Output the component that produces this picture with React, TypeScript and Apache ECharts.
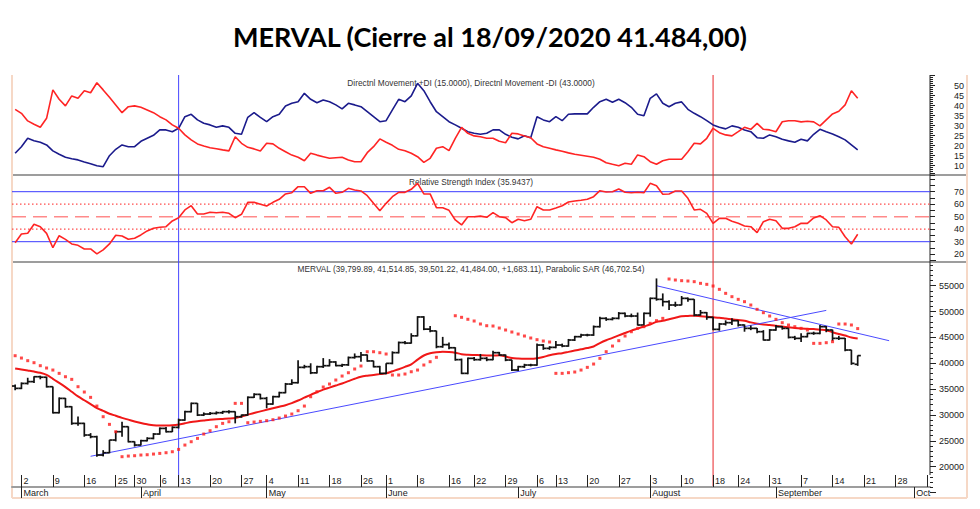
import React, { useEffect, useRef } from 'react';
import * as echarts from 'echarts';

// ---------- calendar (trading days) ----------
const START_DATE = '2020-02-28';
const END_DATE = '2020-10-05';
const HOLIDAYS = ['2020-03-23', '2020-03-24', '2020-03-31', '2020-04-09', '2020-04-10', '2020-05-01', '2020-05-25', '2020-06-15', '2020-07-09', '2020-07-10', '2020-08-17'];
const MONTH_LABELS: Record<number, string> = { 2: 'March', 3: 'April', 4: 'May', 5: 'June', 6: 'July', 7: 'August', 8: 'September', 9: 'Oct' };

function buildDays(): string[] {
  const out: string[] = [];
  const s = new Date(START_DATE + 'T00:00:00Z');
  const e = new Date(END_DATE + 'T00:00:00Z');
  for (let d = new Date(s); d <= e; d = new Date(d.getTime() + 86400000)) {
    const iso = d.toISOString().slice(0, 10);
    const dow = d.getUTCDay();
    if (dow === 0 || dow === 6) continue;
    if (HOLIDAYS.includes(iso)) continue;
    out.push(iso);
  }
  return out;
}
const CATEGORIES = buildDays();

// ---------- price: [open, high, low, close] ----------
const MERVAL_OHLC: number[][] = [
  [35600, 35900, 34800, 35150], [35150, 36300, 35000, 36100], [36100, 37200, 35900, 36450], [36450, 37500, 36200, 37400],
  [37400, 37600, 36900, 37300], [37300, 37400, 35300, 35470], [35470, 35500, 30300, 30440], [30440, 33400, 30300, 33210],
  [33210, 33300, 31400, 31600], [31600, 31700, 28100, 28380], [28380, 29700, 27900, 28380], [28380, 28500, 25800, 26130],
  [26130, 26500, 25500, 25800], [25800, 26000, 21940, 22260], [22260, 23200, 22000, 22710], [22710, 25200, 22600, 25160],
  [25160, 26900, 24900, 26770], [26770, 28700, 25800, 27740], [27740, 27800, 24700, 24835], [24835, 24900, 23900, 24190],
  [24190, 25200, 24100, 25030], [25030, 25700, 24900, 25480], [25480, 26500, 25300, 26320], [26320, 27600, 26200, 27410],
  [27410, 27700, 26600, 26770], [26770, 27800, 26700, 27610], [27610, 29300, 27400, 29025], [29025, 30800, 28900, 30640],
  [30640, 32400, 30500, 32250], [32250, 32300, 29800, 29990], [29990, 30500, 29800, 30185], [30185, 30600, 30000, 30310],
  [30310, 30700, 30100, 30440], [30440, 30800, 30200, 30640], [30640, 30900, 30300, 30640], [30640, 30700, 28380, 29670],
  [29670, 30100, 29500, 29990], [29990, 33600, 29900, 33410], [33410, 34200, 33300, 33990], [33990, 34100, 33000, 33210],
  [33210, 33500, 31300, 32120], [32120, 33700, 32000, 33540], [33540, 34500, 33400, 34310], [34310, 36200, 34200, 35985],
  [35985, 36900, 35800, 36240], [36240, 40600, 36100, 39210], [39210, 39700, 39000, 39340], [39340, 40000, 37900, 38150],
  [38150, 39500, 38000, 39337], [39337, 41000, 39100, 39530], [39530, 40800, 39400, 40250], [40250, 40400, 39400, 39550],
  [39550, 39900, 39300, 39700], [39700, 41300, 39500, 41100], [41100, 41900, 40900, 41270], [41270, 42200, 40300, 41600],
  [41600, 41700, 40300, 40450], [40450, 40500, 39200, 39337], [39337, 39500, 37900, 38047], [38047, 40000, 37900, 39981],
  [39981, 42300, 39800, 42050], [42050, 44200, 41900, 44000], [44000, 44300, 43700, 43900], [43900, 45800, 43800, 45300],
  [45300, 49100, 45200, 48950], [48950, 49100, 46400, 46600], [46600, 47200, 46000, 46250], [46250, 46300, 42900, 43200],
  [43200, 45100, 43000, 43600], [43600, 44000, 42700, 43000], [43000, 43100, 40500, 40700], [40700, 40900, 37900, 38050],
  [38050, 41100, 37900, 40950], [40950, 41200, 40500, 40700], [40700, 41800, 40500, 40950], [40950, 41200, 40400, 40700],
  [40700, 42400, 40600, 42044], [42044, 42200, 41400, 41592], [41592, 41700, 40400, 40626], [40626, 40700, 38500, 38692],
  [38692, 39500, 38500, 39337], [39337, 39900, 39100, 39659], [39659, 39900, 39400, 39659], [39659, 43800, 39500, 43526],
  [43526, 43700, 42600, 42882], [42882, 43300, 42600, 43075], [43075, 44300, 42900, 43526], [43526, 43800, 43100, 43333],
  [43333, 44700, 43200, 44493], [44493, 45300, 44300, 45138], [45138, 45700, 45000, 45460], [45460, 45700, 45200, 45460],
  [45460, 47300, 45300, 47071], [47071, 49000, 46900, 48682], [48682, 48900, 48200, 48489], [48489, 48900, 48300, 48682],
  [48682, 49900, 48500, 49649], [49649, 49800, 48900, 49133], [49133, 49600, 48900, 49133], [49133, 49800, 47300, 47393],
  [47393, 49800, 47200, 49649], [49649, 52700, 49000, 52550], [52550, 56400, 52100, 52356], [52356, 53500, 51000, 51900],
  [51900, 52200, 50300, 51260], [51260, 51900, 50900, 51260], [51260, 53000, 51200, 52550], [52550, 52700, 51900, 52356],
  [52356, 52400, 49100, 49330], [49330, 50300, 49200, 49780], [49780, 49900, 48400, 48876], [48876, 49000, 46400, 46555],
  [46555, 47800, 46300, 47590], [47590, 48300, 47300, 47845], [47845, 48700, 47400, 48230], [48230, 48300, 47100, 47400],
  [47400, 47500, 46100, 46750], [46750, 47300, 46400, 46750], [46750, 46800, 45800, 46105], [46105, 46400, 44400, 44490],
  [44490, 46600, 44400, 46430], [46430, 47400, 46300, 47070], [47070, 47200, 46500, 46750], [46750, 46800, 44800, 45010],
  [45010, 45300, 44500, 44815], [44815, 45800, 44100, 45140], [45140, 45900, 45000, 45780], [45780, 46100, 45500, 45780],
  [45780, 47400, 45600, 47070], [47070, 47200, 46000, 46430], [46430, 46500, 44300, 44815], [44815, 45300, 44500, 44815],
  [44815, 44900, 42300, 42560], [42560, 42600, 39700, 39980], [39799.89, 41514.85, 39501.22, 41484.0],
];

// moving average (red curve)
const MERVAL_MA = [
  39000, 38800, 38600, 38400, 38150, 37750, 37000, 36200, 35400, 34500,
  33600, 32850, 32100, 31350, 30800, 30250, 29850, 29450, 29100, 28750,
  28450, 28200, 28000, 27950, 27950, 28000, 28150, 28400, 28650, 28800,
  28950, 29100, 29200, 29250, 29300, 29400, 29700, 30050, 30400, 30700,
  31000, 31300, 31600, 31900, 32300, 32800, 33350, 33900, 34400, 34900,
  35300, 35700, 36100, 36550, 37000, 37400, 37600, 37750, 37900, 38050,
  38450, 38850, 39300, 39800, 40700, 41500, 41950, 42150, 42250, 42200,
  42050, 41750, 41650, 41600, 41550, 41500, 41500, 41550, 41300, 41000,
  40900, 40850, 40850, 40950, 41200, 41550, 41800, 41950, 42200, 42450,
  42700, 42950, 43250, 43900, 44450, 44900, 45400, 45850, 46300, 46700,
  47100, 47500, 48000, 48200, 48500, 48800, 49100, 49150, 49200, 49100,
  49000, 48900, 48800, 48650, 48500, 48350, 48200, 47900, 47650, 47500,
  47400, 47250, 47100, 46950, 46800, 46700, 46650, 46600, 46500, 46400,
  46000, 45650, 45350, 45000, 44800,
];

// Parabolic SAR
const PARABOLIC_SAR: (number | null)[] = [
  41460, 41010, 40500, 40110, 39530, 39080, 38690, 38050, 37400, 36890,
  35470, 34440, 33410, 31730, 29670, 28190, 26770, 21940, 22065, 22130,
  22260, 22320, 22450, 22580, 22710, 22900, 23350, 24190, 24835, 25480,
  26320, 26960, 27740, 28380, 28700, 32250, 32250, 28510, 28640, 28770,
  28900, 29090, 29410, 29800, 30190, 30830, 31730, 33530, 34500, 35410,
  35990, 36760, 37530, 38170, 38890, 39470, 42230, 42230, 42040, 41790,
  37730, 37730, 37920, 38360, 38690, 39660, 40300, 41150, null, null,
  49190, 48880, 48500, 48170, 47590, 47260, 47200, 46810, 46430, 46040,
  45650, 45270, 44880, 44560, 44300, 44110, 38050, 38050, 38180, 38310,
  38690, 39210, 39850, 40950, 42240, 43330, 44365, 45270, 46100, 46750,
  47071, 47716, 48230, 48680, 56287, 56094, 55965, 55900, 55772, 55450,
  55256, 54934, 54290, 53516, 52872, 52356, 51905, 51260, 50422, 49778,
  49133, 48489, 47844, 47393, 47071, 46749, 46426, 43848, 43848, 43977,
  44170, 47587, 47587, 47400, 46702.54,
];

// Directional movement
const DI_PLUS = [
  16.2, 19.5, 23.7, 22.5, 21.7, 20.4, 17.4, 15.7, 14.2, 13.5,
  12.9, 11.9, 11.0, 10.0, 9.5, 15.0, 18.2, 20.4, 19.5, 19.5,
  22.2, 23.7, 25.2, 27.9, 27.9, 27.0, 28.7, 34.5, 35.7, 32.9,
  31.2, 30.4, 29.2, 29.9, 29.2, 26.2, 25.7, 34.2, 36.5, 34.2,
  32.0, 34.5, 35.7, 39.9, 41.2, 42.0, 46.2, 43.2, 41.5, 42.9,
  42.0, 40.4, 38.4, 41.2, 40.4, 39.5, 37.0, 34.5, 32.0, 32.5,
  37.9, 43.2, 42.0, 44.9, 51.2, 47.5, 42.0, 37.0, 34.5, 32.0,
  30.4, 28.7, 27.0, 26.2, 25.7, 26.2, 27.9, 27.9, 25.7, 24.2,
  23.4, 25.0, 24.0, 34.5, 32.9, 32.0, 34.5, 32.5, 35.7, 35.9,
  35.9, 35.9, 39.2, 42.0, 43.2, 41.7, 43.2, 41.5, 39.2, 35.7,
  35.0, 43.7, 45.9, 41.2, 39.5, 41.2, 41.9, 38.2, 36.2, 34.5,
  32.5, 30.4, 29.2, 28.4, 29.9, 29.2, 27.9, 27.0, 24.0, 23.7,
  25.4, 24.5, 23.2, 22.4, 21.7, 23.2, 22.4, 25.7, 28.2, 27.0,
  25.9, 24.5, 22.9, 20.4, 17.9,
];
const DI_MINUS = [
  38.2, 36.2, 32.4, 30.7, 29.2, 33.7, 47.9, 43.2, 39.9, 44.9,
  43.7, 47.5, 46.5, 51.5, 47.9, 44.2, 40.4, 36.5, 39.5, 39.9,
  39.2, 37.9, 36.5, 34.5, 32.9, 30.4, 28.7, 25.4, 22.9, 20.9,
  19.9, 19.0, 18.5, 17.9, 17.4, 24.5, 21.2, 19.2, 18.4, 17.4,
  21.2, 20.9, 18.7, 17.0, 15.3, 14.2, 12.5, 16.2, 15.3, 14.5,
  13.7, 14.0, 14.2, 12.9, 12.0, 12.0, 16.5, 19.5, 23.4, 21.7,
  20.2, 18.2, 17.5, 16.2, 14.5, 11.7, 13.7, 18.7, 19.5, 17.5,
  23.7, 29.2, 26.2, 24.9, 24.5, 23.7, 23.7, 22.2, 21.5, 26.2,
  25.9, 24.9, 24.0, 20.9, 19.5, 18.7, 17.9, 17.2, 16.4, 15.7,
  15.2, 14.7, 14.2, 13.2, 11.5, 10.7, 10.0, 11.2, 10.7, 15.4,
  14.5, 12.0, 10.7, 12.5, 13.2, 13.2, 13.2, 17.0, 21.2, 20.9,
  23.7, 28.7, 26.5, 25.4, 24.9, 27.0, 29.2, 28.2, 31.2, 28.2,
  27.9, 27.0, 32.0, 32.5, 32.5, 31.9, 32.2, 31.9, 29.9, 32.9,
  35.9, 37.2, 40.4, 47.5, 43.7,
];

// Relative Strength Index
const RSI = [
  29.2, 36.2, 36.7, 43.9, 42.0, 36.7, 25.2, 34.8, 31.9, 28.2,
  27.1, 24.2, 24.2, 20.2, 23.4, 28.2, 35.1, 34.6, 31.9, 32.7,
  35.4, 38.6, 40.7, 41.5, 42.0, 46.6, 49.2, 55.4, 58.8, 52.2,
  52.2, 53.5, 53.2, 53.5, 52.7, 49.2, 51.9, 61.5, 61.5, 59.9,
  58.6, 61.5, 63.9, 68.2, 69.2, 74.0, 74.0, 68.7, 70.8, 70.8,
  73.5, 68.7, 69.5, 72.7, 71.4, 70.6, 66.8, 60.7, 54.8, 60.7,
  66.0, 69.5, 69.5, 71.9, 76.7, 68.2, 68.2, 57.2, 57.2, 55.1,
  47.4, 43.4, 50.0, 50.0, 50.6, 49.5, 53.2, 50.0, 49.2, 45.2,
  47.9, 46.8, 47.9, 58.0, 55.4, 55.4, 57.0, 58.8, 61.8, 62.6,
  63.1, 63.9, 66.0, 70.8, 69.8, 70.0, 72.2, 69.5, 69.2, 69.5,
  69.2, 76.7, 74.8, 67.9, 68.2, 70.6, 70.6, 64.7, 55.4, 55.9,
  52.7, 44.7, 48.7, 48.7, 46.3, 44.7, 42.6, 42.0, 37.2, 46.0,
  47.9, 46.8, 40.7, 40.7, 42.0, 44.7, 44.7, 49.0, 50.8, 47.4,
  42.0, 41.5, 34.0, 28.2, 35.94,
];

// RSI reference levels and their styles
const RSI_LEVELS = [
  { value: 70, color: '#3b3bff', dash: null as number[] | null, width: 1 },
  { value: 30, color: '#3b3bff', dash: null as number[] | null, width: 1 },
  { value: 60, color: '#ff4c4c', dash: [1.5, 2.5], width: 1.2 },
  { value: 40, color: '#ff4c4c', dash: [1.5, 2.5], width: 1.2 },
  { value: 50, color: '#ff8a8a', dash: [14, 7], width: 1.4 },
];
// trend lines [startDayIndex, startValue, endDayIndex, endValue]
const TRENDLINES = [
  [12, 22020, 129, 50220],
  [102, 54990, 139, 44360],
];
const MARKER_DAYS = [
  { date: '2020-04-13', color: '#4646ff' },
  { date: '2020-08-18', color: '#e8262a' },
];

const TITLE = 'MERVAL (Cierre al 18/09/2020 41.484,00)';
const DI_TEXT = 'Directnl Movement +DI (15.0000), Directnl Movement -DI (43.0000)';
const RSI_TEXT = 'Relative Strength Index (35.9437)';
const PRICE_TEXT = 'MERVAL (39,799.89, 41,514.85, 39,501.22, 41,484.00, +1,683.11), Parabolic SAR (46,702.54)';

// ---------- helpers ----------
function isWeekStart(i: number): boolean {
  if (i <= 0) return false;
  const a = new Date(CATEGORIES[i - 1] + 'T00:00:00Z');
  const b = new Date(CATEGORIES[i] + 'T00:00:00Z');
  return b.getUTCDay() <= a.getUTCDay() || b.getTime() - a.getTime() > 6 * 86400000;
}
function isMonthStart(i: number): boolean {
  if (i <= 0) return false;
  return CATEGORIES[i - 1].slice(5, 7) !== CATEGORIES[i].slice(5, 7);
}

const FONT = 'Liberation Sans, Arial, sans-serif';
const LEFT = 12;
const RIGHT_EDGE = 930;
const GRID_W = RIGHT_EDGE - LEFT;

export default function App() {
  const ref = useRef<HTMLDivElement>(null);

  useEffect(() => {
    document.body.style.margin = '0';
    const chart = echarts.init(ref.current!, null, { renderer: 'svg' });

    const yCommon = {
      position: 'right',
      axisLine: { show: false },
      splitLine: { show: false },
      axisTick: { show: true, length: 5, lineStyle: { color: '#222' } },
      axisLabel: { fontSize: 9, color: '#222', fontFamily: FONT, align: 'right', margin: 34 },
    };
    const hiddenX = {
      type: 'category',
      data: CATEGORIES,
      boundaryGap: true,
      axisLine: { show: false },
      axisTick: { show: false },
      axisLabel: { show: false },
      splitLine: { show: false },
    };

    const graphicBase: any[] = [
      { type: 'line', shape: { x1: LEFT, y1: 175, x2: 967, y2: 175 }, style: { stroke: '#9d9d9d', lineWidth: 2 }, silent: true },
      { type: 'line', shape: { x1: LEFT, y1: 262, x2: 967, y2: 262 }, style: { stroke: '#9d9d9d', lineWidth: 2 }, silent: true },
      { type: 'line', shape: { x1: RIGHT_EDGE, y1: 75, x2: RIGHT_EDGE, y2: 475 }, style: { stroke: '#222', lineWidth: 1 }, silent: true },
      { type: 'line', shape: { x1: LEFT, y1: 75, x2: LEFT, y2: 498 }, style: { stroke: '#f6d8c6', lineWidth: 2 }, silent: true },
      { type: 'line', shape: { x1: LEFT, y1: 498, x2: 967, y2: 498 }, style: { stroke: '#f6d8c6', lineWidth: 2 }, silent: true },
      { type: 'line', shape: { x1: 967, y1: 75, x2: 967, y2: 498 }, style: { stroke: '#f6d8c6', lineWidth: 2 }, silent: true },
      { type: 'text', x: 471, y: 83, style: { text: DI_TEXT, fill: '#333', font: '8.3px ' + FONT, textAlign: 'center', textVerticalAlign: 'middle' }, silent: true },
      { type: 'text', x: 471, y: 182, style: { text: RSI_TEXT, fill: '#333', font: '8.3px ' + FONT, textAlign: 'center', textVerticalAlign: 'middle' }, silent: true },
      { type: 'text', x: 471, y: 269, style: { text: PRICE_TEXT, fill: '#333', font: '8.3px ' + FONT, textAlign: 'center', textVerticalAlign: 'middle' }, silent: true },
    ];

    const option: any = {
      animation: false,
      backgroundColor: '#ffffff',
      title: {
        text: TITLE,
        left: 'center',
        top: 18,
        textStyle: { fontFamily: 'Lato, sans-serif', fontWeight: 'bold', fontSize: 27, color: '#000' },
      },
      grid: [
        { left: LEFT, width: GRID_W, top: 75.7, height: 100 },
        { left: LEFT, width: GRID_W, top: 172.95, height: 87.5 },
        { left: LEFT, width: GRID_W, top: 259.8, height: 232.8 },
      ],
      xAxis: [
        { ...hiddenX, gridIndex: 0 },
        { ...hiddenX, gridIndex: 1 },
        {
          type: 'category',
          gridIndex: 2,
          data: CATEGORIES,
          boundaryGap: true,
          position: 'bottom',
          offset: -5.6,
          axisLine: { show: true, lineStyle: { color: '#9d9d9d', width: 2 } },
          axisTick: {
            show: true, inside: true, length: 12, alignWithLabel: true,
            interval: (i: number) => isWeekStart(i),
            lineStyle: { color: '#222' },
          },
          axisLabel: {
            show: true, inside: true, margin: 2, align: 'left', padding: [0, 0, 0, 2],
            interval: (i: number) => isWeekStart(i),
            formatter: (v: string, i: number) => (i >= CATEGORIES.length - 1 ? '' : String(parseInt(v.slice(8, 10), 10))),
            fontSize: 9, color: '#222', fontFamily: FONT,
          },
          splitLine: { show: false },
        },
        {
          type: 'category',
          gridIndex: 2,
          data: CATEGORIES,
          boundaryGap: true,
          position: 'bottom',
          offset: -5.6,
          axisLine: { show: false },
          axisTick: {
            show: true, inside: false, length: 11, alignWithLabel: true,
            interval: (i: number) => isMonthStart(i),
            lineStyle: { color: '#222' },
          },
          axisLabel: {
            show: true, margin: 1, align: 'left', padding: [0, 0, 0, 2],
            interval: (i: number) => isMonthStart(i),
            formatter: (v: string) => MONTH_LABELS[parseInt(v.slice(5, 7), 10) - 1] || '',
            fontSize: 9, color: '#222', fontFamily: FONT,
          },
          splitLine: { show: false },
        },
      ],
      yAxis: [
        {
          ...yCommon, type: 'value', gridIndex: 0, min: 5, max: 55, interval: 5,
          minorTick: { show: true, splitNumber: 5, length: 3, lineStyle: { color: '#222' } },
          axisLabel: { ...yCommon.axisLabel, formatter: (v: number) => (v >= 10 && v <= 50 ? String(v) : '') },
        },
        {
          ...yCommon, type: 'value', gridIndex: 1, min: 15, max: 85, interval: 5,
          axisLabel: { ...yCommon.axisLabel, formatter: (v: number) => (v >= 20 && v <= 70 && v % 10 === 0 ? String(v) : '') },
        },
        {
          ...yCommon, type: 'value', gridIndex: 2, min: 15000, max: 60000, interval: 5000,
          minorTick: { show: true, splitNumber: 5, length: 3, lineStyle: { color: '#222' } },
          axisTick: { show: true, length: 6, lineStyle: { color: '#222' } },
          axisLabel: { ...yCommon.axisLabel, formatter: (v: number) => (v >= 20000 && v <= 55000 ? String(v) : '') },
        },
      ],
      series: [
        {
          type: 'line', name: '+DI', xAxisIndex: 0, yAxisIndex: 0, data: DI_PLUS,
          showSymbol: false, symbol: 'none', lineStyle: { color: '#1b1b8c', width: 1.6 }, z: 3,
        },
        {
          type: 'line', name: '-DI', xAxisIndex: 0, yAxisIndex: 0, data: DI_MINUS,
          showSymbol: false, symbol: 'none', lineStyle: { color: '#ff2424', width: 1.6 }, z: 3,
        },
        {
          type: 'line', name: 'RSI', xAxisIndex: 1, yAxisIndex: 1, data: RSI,
          showSymbol: false, symbol: 'none', lineStyle: { color: '#ff2424', width: 1.6 }, z: 4,
        },
        {
          type: 'custom', name: 'MERVAL', xAxisIndex: 2, yAxisIndex: 2,
          data: MERVAL_OHLC.map((d, i) => [i, d[0], d[1], d[2], d[3]]),
          encode: { x: 0, y: [1, 2, 3, 4] },
          z: 5,
          renderItem: (params: any, api: any) => {
            const i = api.value(0);
            const o = api.coord([i, api.value(1)]);
            const h = api.coord([i, api.value(2)]);
            const l = api.coord([i, api.value(3)]);
            const c = api.coord([i, api.value(4)]);
            const w = api.size([1, 0])[0] * 0.5;
            const st = { stroke: '#111', lineWidth: 1.7 };
            return {
              type: 'group',
              children: [
                { type: 'line', shape: { x1: h[0], y1: h[1], x2: l[0], y2: l[1] }, style: st },
                { type: 'line', shape: { x1: o[0] - w, y1: o[1], x2: o[0], y2: o[1] }, style: st },
                { type: 'line', shape: { x1: c[0], y1: c[1], x2: c[0] + w, y2: c[1] }, style: st },
              ],
            };
          },
        },
        {
          type: 'line', name: 'MA', xAxisIndex: 2, yAxisIndex: 2, data: MERVAL_MA,
          showSymbol: false, symbol: 'none', smooth: 0.3, lineStyle: { color: '#f01818', width: 2 }, z: 4,
          markLine: {
            silent: true, symbol: 'none', label: { show: false },
            lineStyle: { color: '#4a4aff', type: 'solid', width: 1 },
            data: TRENDLINES.map((t) => [
              { coord: [CATEGORIES[t[0]], t[1]] },
              { coord: [CATEGORIES[t[2]], t[3]] },
            ]),
          },
        },
        {
          type: 'scatter', name: 'SAR', xAxisIndex: 2, yAxisIndex: 2,
          data: PARABOLIC_SAR.map((v) => (v == null ? '-' : v)),
          symbol: 'rect', symbolSize: 3, itemStyle: { color: '#ff1a1a' }, z: 6,
        },
      ],
      graphic: graphicBase,
    };

    chart.setOption(option);

    const markers = MARKER_DAYS.map((m) => {
      const x = chart.convertToPixel({ xAxisIndex: 2 } as any, m.date) as unknown as number;
      return {
        type: 'line', silent: true,
        shape: { x1: x, y1: 75, x2: x, y2: 487 },
        style: { stroke: m.color, lineWidth: 1 },
      };
    });
    const levels = RSI_LEVELS.map((lv) => {
      const y = chart.convertToPixel({ yAxisIndex: 1 } as any, lv.value) as unknown as number;
      return {
        type: 'line', silent: true,
        shape: { x1: LEFT, y1: y, x2: RIGHT_EDGE, y2: y },
        style: { stroke: lv.color, lineWidth: lv.width, lineDash: lv.dash || undefined },
      };
    });
    chart.setOption({ graphic: [...graphicBase, ...markers, ...levels] });

    return () => chart.dispose();
  }, []);

  return <div ref={ref} style={{ width: 980, height: 509 }} />;
}
